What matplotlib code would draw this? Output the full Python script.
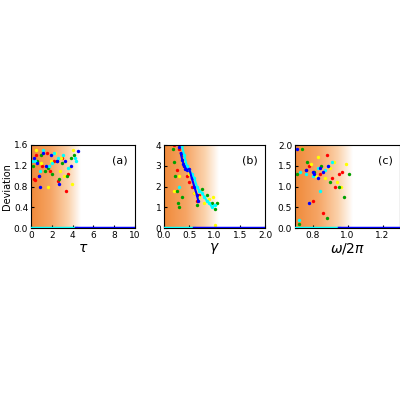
import matplotlib.pyplot as plt
import numpy as np
from matplotlib.colors import LinearSegmentedColormap

COLORS = ['red', 'yellow', '#00a000', 'cyan', 'blue']

# panel (a): tau vs deviation
tau_x = {
    'red': [0.3, 0.5, 0.8, 1.5, 1.8, 2.2, 2.6, 3.0, 3.4, 3.6, 0.4, 1.1],
    'yellow': [0.5, 1.0, 1.9, 2.3, 2.8, 3.2, 3.9, 4.0, 0.2, 1.6, 2.9, 3.7],
    '#00a000': [0.2, 1.0, 1.6, 2.0, 2.5, 3.0, 3.5, 3.8, 0.6, 2.7, 4.1, 1.3],
    'cyan': [0.1, 0.4, 1.2, 1.7, 2.2, 2.6, 3.1, 4.2, 4.3, 0.9, 2.0, 3.6],
    'blue': [0.3, 0.6, 0.9, 1.4, 1.9, 2.5, 2.7, 3.3, 3.8, 4.5, 1.2, 0.8],
}
tau_y = {
    'red': [0.95, 1.4, 1.0, 1.45, 1.1, 1.3, 0.9, 1.35, 0.72, 1.05, 0.92, 1.2],
    'yellow': [1.5, 1.25, 1.3, 1.45, 1.1, 1.0, 0.85, 1.5, 1.2, 0.8, 1.35, 1.15],
    '#00a000': [1.2, 1.4, 1.15, 1.05, 1.3, 1.25, 1.0, 1.35, 1.3, 0.95, 1.4, 1.1],
    'cyan': [1.3, 1.3, 1.5, 1.2, 1.45, 1.35, 1.4, 1.35, 1.3, 1.1, 1.25, 1.15],
    'blue': [1.35, 1.25, 0.8, 1.2, 1.4, 1.3, 0.85, 1.3, 1.2, 1.48, 1.45, 1.0],
}
# panel (b): gamma vs deviation
gam_x = {
    'red': [0.2, 0.3, 0.35, 0.45, 0.5, 0.55, 0.6, 0.65, 0.7, 0.25, 0.4],
    'yellow': [0.2, 0.3, 0.4, 0.5, 0.6, 0.7, 0.8, 0.9, 1.0, 1.05, 0.98],
    '#00a000': [0.18, 0.2, 0.22, 0.25, 0.28, 0.3, 0.35, 0.65, 0.75, 0.85, 0.95, 1.0, 1.05],
    'cyan': [0.35, 0.4, 0.45, 0.5, 0.55, 0.6, 0.65, 0.7, 0.75, 0.8, 0.85, 0.9, 0.95, 1.0, 0.3],
    'blue': [0.33, 0.36, 0.4, 0.45, 0.5, 0.55, 0.6, 0.65, 0.68, 0.38, 0.42, 0.3],
}
gam_y = {
    'red': [4.0, 3.8, 3.5, 2.5, 2.2, 2.0, 1.7, 1.3, 1.6, 2.8, 3.0],
    'yellow': [1.8, 2.5, 3.2, 2.6, 1.7, 1.5, 1.2, 1.4, 0.15, 1.2, 1.5],
    '#00a000': [3.8, 3.2, 2.5, 1.8, 1.2, 1.0, 1.5, 1.1, 1.9, 1.6, 1.2, 0.9, 1.2],
    'cyan': [4.0, 3.5, 3.0, 2.8, 2.6, 2.4, 2.0, 1.8, 1.7, 1.5, 1.3, 1.2, 1.0, 1.1, 2.0],
    'blue': [3.6, 3.3, 3.0, 2.8, 2.85, 2.4, 2.0, 1.6, 1.3, 3.1, 2.85, 3.9],
}
# panel (c): omega/2pi vs deviation
om_x = {
    'red': [0.76, 0.8, 0.84, 0.88, 0.91, 0.93, 0.95, 0.97, 0.86, 0.78],
    'yellow': [0.74, 0.79, 0.83, 0.87, 0.9, 0.94, 0.99, 0.82, 0.92, 0.96],
    '#00a000': [0.71, 0.74, 0.77, 0.81, 0.85, 0.9, 0.95, 0.98, 1.01, 0.88, 0.72],
    'cyan': [0.73, 0.76, 0.8, 0.83, 0.87, 0.89, 0.91, 0.72, 0.84],
    'blue': [0.71, 0.76, 0.78, 0.81, 0.84, 0.86, 0.89, 0.83, 0.8],
}
om_y = {
    'red': [1.4, 0.65, 1.3, 1.75, 1.2, 1.0, 1.3, 1.35, 0.35, 1.5],
    'yellow': [1.9, 1.55, 1.7, 1.2, 1.45, 1.1, 1.55, 1.25, 1.6, 1.0],
    '#00a000': [1.3, 1.9, 1.6, 1.35, 1.5, 1.1, 1.0, 0.75, 1.3, 0.25, 0.1],
    'cyan': [1.35, 1.3, 1.25, 1.45, 1.4, 1.5, 1.6, 0.2, 0.9],
    'blue': [1.9, 1.4, 0.6, 1.3, 1.45, 1.35, 1.5, 1.2, 1.35],
}

panels = [
    dict(x=tau_x, y=tau_y, xlim=(0, 10), ylim=(0, 1.6), fade=4.8, zero0=4.3,
         xticks=[0, 2, 4, 6, 8, 10], xfmt='%d', yticks=[0, 0.4, 0.8, 1.2, 1.6], yfmt='%.1f',
         xlabel=r'$\tau$', tag='(a)', left=0.0775, width=0.26),
    dict(x=gam_x, y=gam_y, xlim=(0, 2), ylim=(0, 4), fade=1.08, zero0=0.6,
         xticks=[0, 0.5, 1, 1.5, 2], xfmt='%.1f', yticks=[0, 1, 2, 3, 4], yfmt='%d',
         xlabel=r'$\gamma$', tag='(b)', left=0.41, width=0.2525),
    dict(x=om_x, y=om_y, xlim=(0.7, 1.3), ylim=(0, 2), fade=1.03, zero0=0.95,
         xticks=[0.8, 1.0, 1.2], xfmt='%.1f', yticks=[0, 0.5, 1.0, 1.5, 2.0], yfmt='%.1f',
         xlabel=r'$\omega/2\pi$', tag='(c)', left=0.7375, width=0.2625),
]

cmap = LinearSegmentedColormap.from_list(
    'fade', [(0, '#f08a3a'), (0.4, '#f6a565'), (0.75, '#fbd3ad'), (1, 'white')])
fig = plt.figure(figsize=(4, 4), dpi=100)
for i, p in enumerate(panels):
    ax = fig.add_axes([p['left'], 0.43, p['width'], 0.2075])
    x0, x1 = p['xlim']
    grad = np.linspace(0, 1, 256)[None, :]
    ax.imshow(grad, cmap=cmap, extent=(x0, p['fade'], p['ylim'][0], p['ylim'][1]),
              aspect='auto', zorder=0)
    for c in COLORS:
        ax.scatter(p['x'][c], p['y'][c], s=6, color=c, zorder=2, linewidths=0)
    if i == 1:
        ax.plot(gam_x['blue'][:9], gam_y['blue'][:9], color='blue', lw=1.5, zorder=3)
        ax.plot(gam_x['cyan'][:14], gam_y['cyan'][:14], color='cyan', lw=1.5, zorder=2)
    ax.plot([x0, p['zero0']], [0, 0], color='cyan', lw=2.5, zorder=3)
    ax.plot([p['zero0'], x1], [0, 0], color='blue', lw=2.5, zorder=3)
    ax.set_xlim(x0, x1)
    ax.set_ylim(*p['ylim'])
    ax.set_xticks(p['xticks'])
    ax.set_xticklabels([p['xfmt'] % v for v in p['xticks']])
    ax.set_yticks(p['yticks'])
    ax.set_yticklabels([p['yfmt'] % v for v in p['yticks']])
    ax.tick_params(labelsize=6.5, direction='in', length=2, pad=2)
    ax.set_xlabel(p['xlabel'], fontsize=10, labelpad=1)
    ax.text(0.93, 0.78, p['tag'], transform=ax.transAxes, ha='right', fontsize=8)
    if i == 0:
        ax.set_ylabel('Deviation', fontsize=7, labelpad=1)

fig.savefig('out.png', dpi=100)
